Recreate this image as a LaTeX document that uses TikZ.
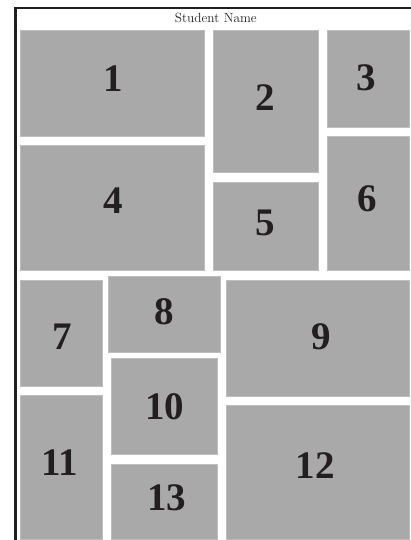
\documentclass[tikz,border=0pt]{standalone}
\usepackage{fontspec}
\newfontfamily\numfont{Liberation Serif}
\definecolor{boxgray}{HTML}{A9A9A9}
\definecolor{boxedge}{HTML}{BEBEBE}
\definecolor{ink}{HTML}{231F20}
\begin{document}
\begin{tikzpicture}[x=1pt,y=1pt,
  box/.style={fill=boxgray,draw=boxedge,line width=0.5pt},
  num/.style={inner sep=0pt,text=ink,font=\numfont\bfseries\fontsize{39}{40}\selectfont},
  frame/.style={draw=ink,line width=2.5pt}]
\clip (0,0) rectangle (411,540);
% frame
\coordinate (fb) at (15.3,-5);
\coordinate (ftl) at (15.3,532);
\coordinate (ftr) at (425,532);
\draw[frame] (fb) -- (ftl) -- (ftr);
\node[anchor=base,inner sep=0pt,text=ink,font=\fontsize{13.3}{16}\selectfont] (title) at (215.8,517.3) {Student Name};
% boxes
\path[box] (20,510) rectangle (204.3,404) coordinate (b1);
\path[box] (213.5,510) rectangle (318.3,367.3) coordinate (b2);
\path[box] (327.3,510) rectangle (409.3,412.7) coordinate (b3);
\path[box] (20,394.3) rectangle (204.3,269.3) coordinate (b4);
\path[box] (213.7,358) rectangle (318.3,269.3) coordinate (b5);
\path[box] (327.5,403.3) rectangle (409.3,269.3) coordinate (b6);
\path[box] (20,260) rectangle (101.8,154) coordinate (b7);
\path[box] (107.8,263.3) rectangle (220.7,187.7) coordinate (b8);
\path[box] (226.3,260) rectangle (409.3,144) coordinate (b9);
\path[box] (111,181.7) rectangle (217,86) coordinate (b10);
\path[box] (20,144.5) rectangle (101.8,0.5) coordinate (b11);
\path[box] (226.3,134.5) rectangle (409.3,0.5) coordinate (b12);
\path[box] (111,76) rectangle (217,0.5) coordinate (b13);
% labels
\node[num] (n1) at (113,461.5) {1};
\node[num] (n2) at (265.5,442.5) {2};
\node[num] (n3) at (366.5,462) {3};
\node[num] (n4) at (113,339) {4};
\node[num] (n5) at (265,317.5) {5};
\node[num] (n6) at (367,341.7) {6};
\node[num] (n7) at (62,203.7) {7};
\node[num] (n8) at (164,228.3) {8};
\node[num] (n9) at (321.5,203.3) {9};
\node[num] (n10) at (164.7,133.5) {10};
\node[num] (n11) at (59.5,77.3) {11};
\node[num] (n12) at (315.3,74) {12};
\node[num] (n13) at (166.7,42.5) {13};
\end{tikzpicture}
\end{document}
